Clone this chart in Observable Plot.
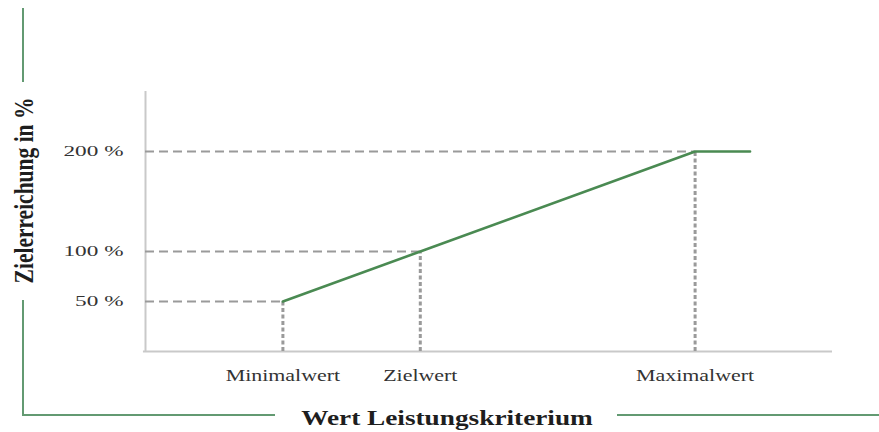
<!DOCTYPE html>
<html>
<head>
<meta charset="utf-8">
<script src="https://cdn.jsdelivr.net/npm/d3@7"></script>
<script src="https://cdn.jsdelivr.net/npm/@observablehq/plot@0.6"></script>
<style>
  html, body { margin: 0; padding: 0; background: #fff; }
  #wrap { position: relative; width: 879px; height: 432px; overflow: hidden; }
  .br { position: absolute; background: #639a72; }
  g[aria-label="y-axis tick label"] text { font-family: "Liberation Serif", serif; font-size: 14.5px; fill: #333; }
  g[aria-label="x-axis tick label"] text { font-family: "Liberation Serif", serif; font-size: 16px; fill: #333; }
</style>
</head>
<body>
<div id="wrap">
  <div class="br" style="left:22px;top:8px;width:2px;height:74px"></div>
  <div class="br" style="left:22px;top:300px;width:2px;height:116px"></div>
  <div class="br" style="left:22px;top:414px;width:253px;height:2px"></div>
  <div class="br" style="left:617px;top:414px;width:262px;height:2px"></div>
</div>
<script>
// Categories on the x axis and their positions
const categories = ["Minimalwert", "Zielwert", "Maximalwert"];
const categoryX = [1, 2, 4];
// Target achievement (%) at each category
const categoryY = [50, 100, 200];
// Y tick labels
const yTicks = [50, 100, 200];
// Payout curve
const curveX = [1, 2, 4, 4.4];
const curveY = [50, 100, 200, 200];
const xTitle = "Wert Leistungskriterium";
const yTitle = "Zielerreichung in %";

const points = categories.map((c, i) => ({name: c, x: categoryX[i], y: categoryY[i]}));
const curve = curveX.map((x, i) => ({x, y: curveY[i]}));

const chart = Plot.plot({
  width: 879,
  height: 432,
  marginLeft: 145,
  marginRight: 47,
  marginTop: 91,
  marginBottom: 81,
  style: {fontFamily: "Liberation Serif, serif", background: "transparent", overflow: "visible"},
  x: {domain: [0, 5]},
  y: {domain: [0, 260]},
  marks: [
    Plot.ruleX([0], {stroke: "#c9c9c9", strokeWidth: 2}),
    Plot.ruleY([0], {x1: -0.015, x2: 5, stroke: "#c9c9c9", strokeWidth: 2}),
    Plot.ruleY(points, {y: "y", x1: 0, x2: "x", stroke: "#9a9a9a", strokeWidth: 2, strokeDasharray: "9,5"}),
    Plot.ruleX(points, {x: "x", y1: 0, y2: "y", stroke: "#9a9a9a", strokeWidth: 3, strokeDasharray: "4,2.5"}),
    Plot.line(curve, {x: "x", y: "y", stroke: "#4a8a52", strokeWidth: 2.6}),
    Plot.axisY({ticks: yTicks, tickFormat: d => d + " %", tickSize: 0, tickPadding: 22, label: null}),
    Plot.axisX({ticks: categoryX, tickFormat: d => categories[categoryX.indexOf(d)], tickSize: 0, tickPadding: 18, label: null}),
    Plot.text([xTitle], {frameAnchor: "bottom", text: d => d, textAnchor: "middle", lineAnchor: "middle", dx: -42, dy: 66, fontSize: 22, fontWeight: "bold", fill: "#1e1e1e"}),
    Plot.text([yTitle], {frameAnchor: "left", text: d => d, textAnchor: "middle", lineAnchor: "middle", rotate: -90, dx: -121, dy: -31, fontSize: 21.5, fontWeight: "bold", fill: "#1e1e1e"})
  ]
});
document.getElementById("wrap").prepend(chart);

// Horizontal stretch of the lettering, as in the reference picture
const allText = Array.from(chart.querySelectorAll("text"));
function stretch(match, k) {
  allText.filter(match).forEach(t => {
    const len = t.getComputedTextLength();
    t.setAttribute("textLength", (len * k).toFixed(1));
    t.setAttribute("lengthAdjust", "spacingAndGlyphs");
  });
}
stretch(t => categories.includes(t.textContent), 1.37);
stretch(t => /%$/.test(t.textContent) && t.textContent !== yTitle, 1.6);
stretch(t => t.textContent === xTitle, 1.24);
allText.filter(t => t.textContent === yTitle).forEach(t => {
  const tr = t.getAttribute("transform") || "";
  t.setAttribute("transform", tr + " scale(1,1.3)");
});
</script>
</body>
</html>
